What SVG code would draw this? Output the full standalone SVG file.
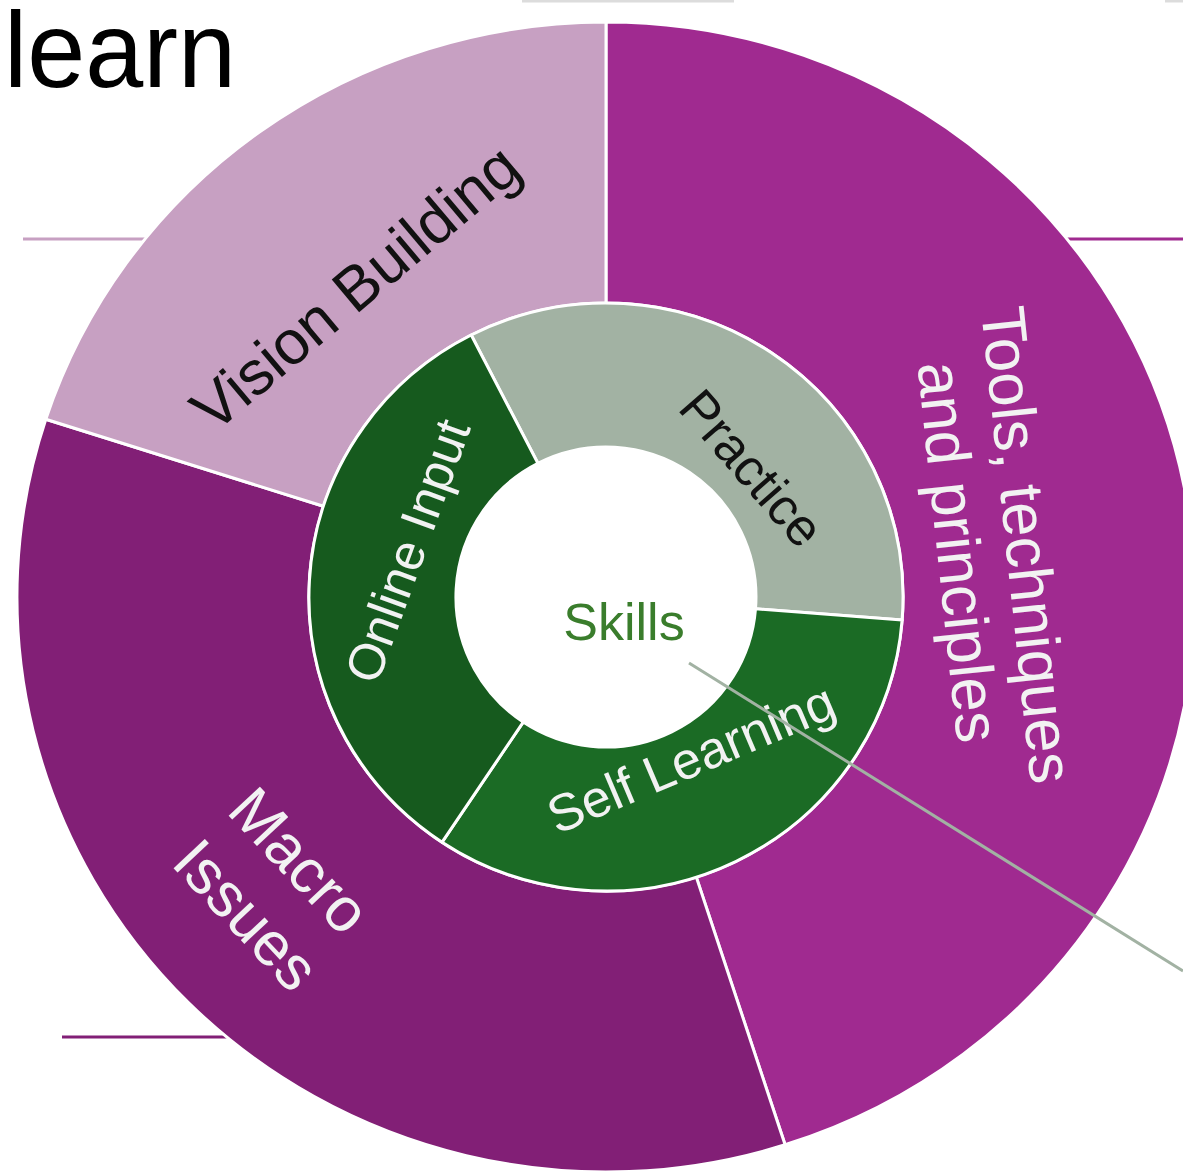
<svg xmlns="http://www.w3.org/2000/svg" width="1183" height="1174" viewBox="0 0 1183 1174">
<style>
  .seg { stroke: #ffffff; stroke-width: 3; stroke-linejoin: round; }
  .lbl { font-family: "Liberation Sans", Arial, sans-serif; text-anchor: middle; }
  .outer { font-size: 62px; }
  .inner { font-size: 52px; }
  .wt { fill: #f2f2f2; }
  .bk { fill: #111111; }
  .guide { fill: none; stroke-width: 3; }
</style>
<rect x="0" y="0" width="1183" height="1174" fill="#ffffff"/>

<g id="frame-lines">
  <line class="guide" x1="522" y1="1" x2="734" y2="1" stroke="#dcdcdc"/>
  <line class="guide" x1="1165" y1="1" x2="1183" y2="1" stroke="#dcdcdc"/>
  <line class="guide" x1="23" y1="239" x2="160" y2="239" stroke="#C7A0C2"/>
  <line class="guide" x1="1050" y1="239" x2="1183" y2="239" stroke="#A02A90"/>
  <line class="guide" x1="62" y1="1037" x2="240" y2="1037" stroke="#821F76"/>
</g>

<g id="title">
  <text x="4" y="87" font-family="'Liberation Sans', Arial, sans-serif" font-size="108" fill="#000000" textLength="232" lengthAdjust="spacingAndGlyphs">learn</text>
</g>

<g id="node-tools">
  <path class="seg" fill="#A02A90" d="M 606,22 A 589 575 0 0 1 785.1,1144.8 L 696.3,877.1 A 297 294 0 0 0 606,303 Z"/>
</g>
<g id="node-macro">
  <path class="seg" fill="#821F76" d="M 785.1,1144.8 A 589 575 0 0 1 45.8,419.3 L 323.5,506.2 A 297 294 0 0 0 696.3,877.1 Z"/>
</g>
<g id="node-vision">
  <path class="seg" fill="#C7A0C2" d="M 45.8,419.3 A 589 575 0 0 1 606,22 L 606,303 A 297 294 0 0 0 323.5,506.2 Z"/>
</g>

<g id="node-practice">
  <path class="seg" fill="#A2B2A3" d="M 471.2,335 A 297 294 0 0 1 902.1,620.1 L 755.5,608.8 A 150 150 0 0 0 537.9,463.3 Z"/>
</g>
<g id="node-self-learning">
  <path class="seg" fill="#1B6B25" d="M 902.1,620.1 A 297 294 0 0 1 442.1,842.2 L 523.2,722.1 A 150 150 0 0 0 755.5,608.8 Z"/>
</g>
<g id="node-online-input">
  <path class="seg" fill="#165A1E" d="M 442.1,842.2 A 297 294 0 0 1 471.2,335 L 537.9,463.3 A 150 150 0 0 0 523.2,722.1 Z"/>
</g>

<g id="labels">
  <text class="lbl outer bk" transform="translate(369,304) rotate(-40)">Vision Building</text>
  <g transform="translate(1006,547) rotate(84)">
    <text class="lbl outer wt" x="0" y="0">Tools, techniques</text>
    <text class="lbl outer wt" x="0" y="69">and principles</text>
  </g>
  <g transform="translate(228,815) rotate(47)">
    <text class="outer wt" font-family="'Liberation Sans', Arial, sans-serif" x="-4" y="0" font-size="60">Macro</text>
    <text class="outer wt" font-family="'Liberation Sans', Arial, sans-serif" x="-4" y="76" font-size="60">Issues</text>
  </g>
  <text class="lbl inner bk" transform="translate(738,480) rotate(49)">Practice</text>
  <text class="lbl inner wt" transform="translate(698,775) rotate(-23)">Self Learning</text>
  <text class="lbl wt" font-size="51" transform="translate(424,557) rotate(-70)">Online Input</text>
</g>

<g id="node-skills">
  <text class="lbl" x="624" y="640" font-size="52" fill="#3A7D2C">Skills</text>
</g>

<g id="connectors">
  <line x1="689" y1="663" x2="1183" y2="971" stroke="#A2B2A3" stroke-width="3"/>
</g>
</svg>
